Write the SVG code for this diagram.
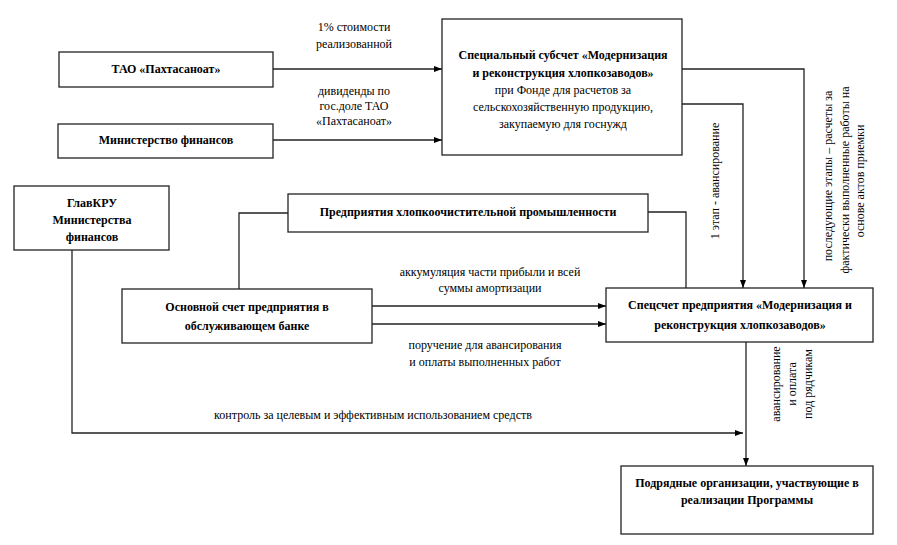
<svg xmlns="http://www.w3.org/2000/svg" width="897" height="545" viewBox="0 0 897 545">
<style>
.box{fill:#fff;stroke:#222;stroke-width:1.3}
.ln{fill:none;stroke:#222;stroke-width:1.3}
text{font-family:'Liberation Serif','Times New Roman','DejaVu Serif',serif;font-size:12px;text-anchor:middle;fill:#000}
.b{font-weight:bold}
</style>
<defs>
<marker id="ah" markerWidth="8" markerHeight="6" refX="8" refY="3" orient="auto" markerUnits="userSpaceOnUse">
<path d="M0,0 L8,3 L0,6 Z" fill="#000"/>
</marker>
</defs>
<rect width="897" height="545" fill="#fff"/>
<g id="connectors" font-family="Liberation Serif, serif">
<path class="ln" d="M273,69 H442" marker-end="url(#ah)"/>
<path class="ln" d="M273,140 H442" marker-end="url(#ah)"/>
<path class="ln" d="M682,69 H804 V288" marker-end="url(#ah)"/>
<path class="ln" d="M682,104 H743 V288" marker-end="url(#ah)"/>
<path class="ln" d="M288,213 H239 V289"/>
<path class="ln" d="M648,212 H686 V288"/>
<path class="ln" d="M372,306 H606" marker-end="url(#ah)"/>
<path class="ln" d="M372,324 H606" marker-end="url(#ah)"/>
<path class="ln" d="M746,342 V466" marker-end="url(#ah)"/>
<path class="ln" d="M72,250 V433 H743" marker-end="url(#ah)"/>
<text x="354" y="31">1% стоимости</text>
<text x="354" y="48">реализованной</text>
<text x="354" y="95">дивиденды по</text>
<text x="354" y="110">гос.доле ТАО</text>
<text x="354" y="125">«Пахтасаноат»</text>
<text x="490" y="276">аккумуляция части прибыли и всей</text>
<text x="490" y="292">суммы амортизации</text>
<text x="485" y="349">поручение для авансирования</text>
<text x="485" y="366">и оплаты выполненных работ</text>
<text x="373" y="419">контроль за целевым и эффективным использованием средств</text>
<text transform="translate(719,181) rotate(-90)">1 этап - авансирование</text>
<text transform="translate(832,176) rotate(-90)">последующие этапы – расчеты за</text>
<text transform="translate(849,180) rotate(-90)">фактически выполненные работы на</text>
<text transform="translate(864,181) rotate(-90)">основе актов приемки</text>
<text transform="translate(780,384) rotate(-90)">авансирование</text>
<text transform="translate(796,384) rotate(-90)">и оплата</text>
<text transform="translate(812,384) rotate(-90)">под рядчикам</text>
</g>
<g id="tao">
<rect class="box" x="59" y="52" width="214" height="35"/>
<text class="b" x="166" y="73">ТАО «Пахтасаноат»</text>
</g>
<g id="minfin">
<rect class="box" x="58" y="124" width="215" height="34"/>
<text class="b" x="166" y="144">Министерство финансов</text>
</g>
<g id="subaccount">
<rect class="box" x="442" y="19" width="240" height="136"/>
<text class="b" x="563" y="59">Специальный субсчет «Модернизация</text>
<text class="b" x="563" y="77">и реконструкция хлопкозаводов»</text>
<text x="563" y="94">при Фонде для расчетов за</text>
<text x="563" y="111">сельскохозяйственную продукцию,</text>
<text x="563" y="128">закупаемую для госнужд</text>
</g>
<g id="glavkru">
<rect class="box" x="14" y="186" width="155" height="64"/>
<text class="b" x="92" y="207">ГлавКРУ</text>
<text class="b" x="92" y="224">Министерства</text>
<text class="b" x="92" y="241">финансов</text>
</g>
<g id="enterprises">
<rect class="box" x="288" y="194" width="360" height="38"/>
<text class="b" x="468" y="216">Предприятия хлопкоочистительной промышленности</text>
</g>
<g id="mainaccount">
<rect class="box" x="122" y="289" width="250" height="54"/>
<text class="b" x="247" y="311">Основной счет предприятия в</text>
<text class="b" x="247" y="330">обслуживающем банке</text>
</g>
<g id="specaccount">
<rect class="box" x="606" y="288" width="267" height="54"/>
<text class="b" x="740" y="309">Спецсчет предприятия «Модернизация и</text>
<text class="b" x="740" y="329">реконструкция хлопкозаводов»</text>
</g>
<g id="contractors">
<rect class="box" x="621" y="466" width="252" height="68"/>
<text class="b" x="747" y="487">Подрядные организации, участвующие в</text>
<text class="b" x="747" y="504">реализации Программы</text>
</g>
</svg>
